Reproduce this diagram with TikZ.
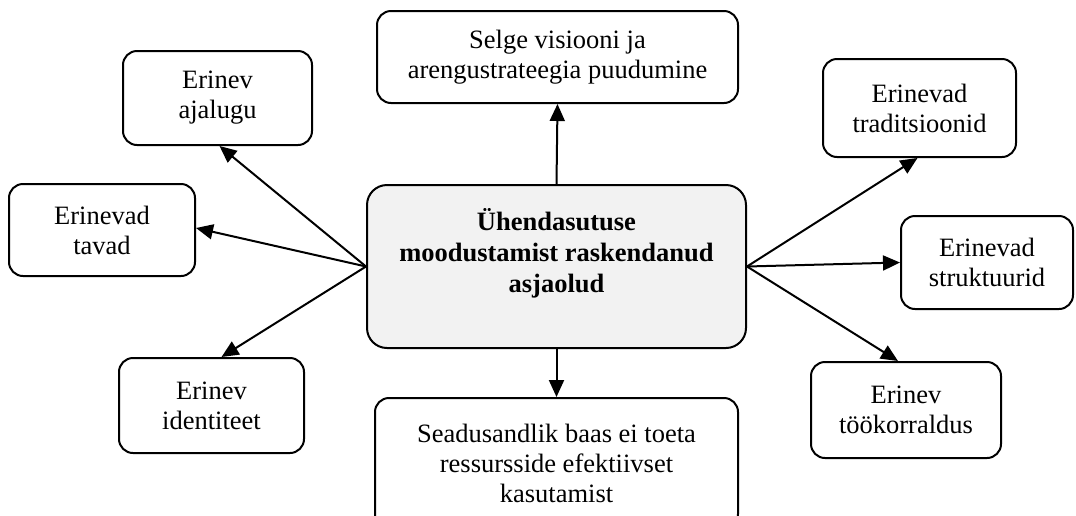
\documentclass[tikz,border=0pt]{standalone}
\usepackage{fontspec}
\setmainfont{Liberation Serif}
\usetikzlibrary{arrows.meta}

\definecolor{corefill}{HTML}{F2F2F2}

\tikzset{
  factor/.style={draw, line width=2pt, rounded corners=14pt, fill=white,
    inner sep=0pt, align=center,
    font=\fontsize{26.5}{30}\selectfont},
  core/.style={draw, line width=2pt, rounded corners=20pt, fill=corefill,
    inner sep=0pt},
  coretext/.style={align=center, inner sep=0pt,
    font=\bfseries\fontsize{26.5}{31}\selectfont},
  link/.style={line width=2pt, -{Triangle[length=17pt,width=15pt]}}
}

\begin{document}
\begin{tikzpicture}[x=1pt, y=-1pt]
  \useasboundingbox (0,0) rectangle (1076,515);
  \clip (0,0) rectangle (1076,515);

  % central box and its title
  \node[core, minimum width=379pt, minimum height=163pt] (c) at (556.5,266.5) {};
  \node[coretext] (ct) at (556.5,253) {Ühendasutuse\\moodustamist raskendanud\\asjaolud};

  % surrounding factors
  \node[factor, minimum width=361pt, minimum height=92pt] (top) at (557.5,57)
    {Selge visiooni ja\\arengustrateegia puudumine};
  \node[factor, minimum width=363pt, minimum height=130pt] (bot) at (556.5,463)
    {Seadusandlik baas ei toeta\\ressursside efektiivset\\kasutamist};
  \node[factor, minimum width=189pt, minimum height=94pt] (aj) at (217.5,98)
    {Erinev\\ajalugu};
  \node[factor, minimum width=186pt, minimum height=92pt] (tav) at (102,230)
    {Erinevad\\tavad};
  \node[factor, minimum width=185pt, minimum height=95pt] (id) at (211.5,405.5)
    {Erinev\\identiteet};
  \node[factor, minimum width=193pt, minimum height=98pt] (trad) at (919.5,108)
    {Erinevad\\traditsioonid};
  \node[factor, minimum width=172pt, minimum height=93pt] (str) at (987,262.5)
    {Erinevad\\struktuurid};
  \node[factor, minimum width=190pt, minimum height=96pt] (too) at (906,410)
    {Erinev\\töökorraldus};

  % connectors from the central box
  \draw[link] (c.north) -- (top.south);
  \draw[link] (c.south) -- (bot.north);
  \draw[link] (c.west) -- ([xshift=2pt]aj.south);
  \draw[link] (c.west) -- ([yshift=2pt]tav.east);
  \draw[link] (c.west) -- ([xshift=10pt]id.north);
  \draw[link] (c.east) -- ([xshift=-2pt]trad.south);
  \draw[link] (c.east) -- (str.west);
  \draw[link] (c.east) -- ([xshift=-8pt]too.north);
\end{tikzpicture}
\end{document}
